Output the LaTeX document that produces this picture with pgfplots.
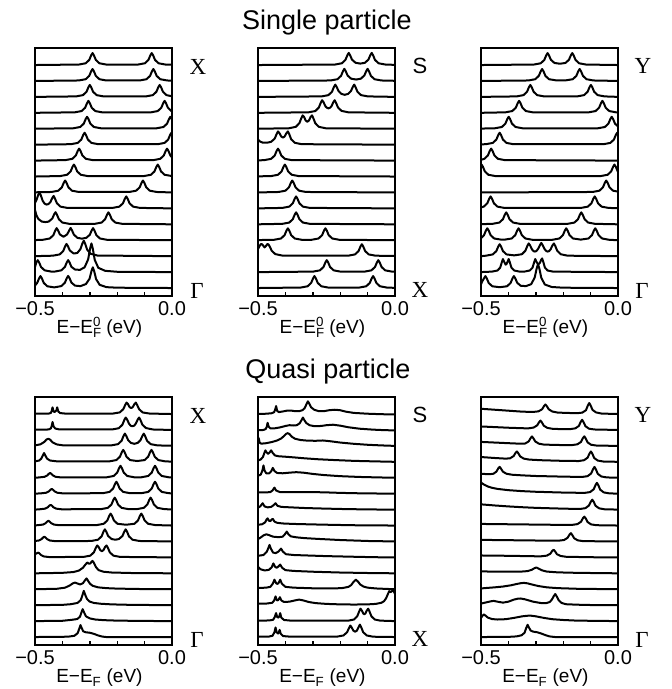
\documentclass[border=0pt]{standalone}
\usepackage{fontspec}
\setmainfont{Liberation Sans}
\newfontfamily\serif{Liberation Serif}
\usepackage{pgfplots}
\pgfplotsset{compat=1.18}
\pgfplotsset{
  o/.style={y filter/.expression={y+#1}},
  panel/.style={
    scale only axis, width=137bp, height=248bp, anchor=south west,
    xmin=-0.5, xmax=0, ymin=-0.5, ymax=15.07,
    ytick=\empty,
    xtick={-0.5,-0.4,-0.3,-0.2,-0.1,0},
    xticklabels={−0.5,,,,,0.0},
    xtick pos=left, tick align=inside, major tick length=4bp,
    every tick/.style={black, line width=1.4bp},
    axis line style={line width=1.8bp},
    xticklabel style={anchor=base, yshift=-20bp, inner sep=0pt, font=\fontsize{20bp}{22bp}\selectfont},
    xlabel style={at={(axis description cs:0.47,0)}, anchor=base, yshift=-38bp, inner sep=0pt, font=\fontsize{19bp}{21bp}\selectfont},
    every axis plot/.append style={black, line width=2bp, line join=round, mark=none},
    axis on top,
  },
}
\tikzset{
  lab/.style={font=\serif\fontsize{23bp}{26bp}\selectfont},
  sl/.style={font=\fontsize{22bp}{25bp}\selectfont},
  ttl/.style={font=\fontsize{27bp}{30bp}\selectfont, anchor=base},
}
\newcommand{\elab}{E−E\rlap{\textsubscript{F}}\textsuperscript{0} (eV)}
\newcommand{\elabq}{E−E\textsubscript{F} (eV)}

\begin{document}
\begin{tikzpicture}[x=1bp,y=1bp]
\path (0,0) rectangle (672,689);

% ---- single particle, Gamma -> X
\begin{axis}[panel, at={(35bp,393bp)}, xlabel={\elab}]
\addplot[o=14] coordinates {(-.5,0)(-.34,.03)(-.315,.11)(-.302,.32)(-.295,.61)(-.29,.75)(-.285,.61)(-.278,.32)(-.265,.11)(-.24,.03)(-.124,.03)(-.099,.11)(-.086,.32)(-.079,.61)(-.074,.75)(-.069,.61)(-.062,.32)(-.049,.11)(-.024,.03)(0,.02)};
\addplot[o=13] coordinates {(-.5,0)(-.34,.03)(-.315,.11)(-.302,.32)(-.295,.61)(-.29,.75)(-.285,.61)(-.278,.32)(-.265,.11)(-.24,.03)(-.118,.03)(-.093,.11)(-.08,.32)(-.073,.61)(-.068,.75)(-.063,.61)(-.056,.32)(-.043,.11)(-.018,.03)(0,.02)};
\addplot[o=12] coordinates {(-.5,0)(-.35,.03)(-.325,.11)(-.312,.32)(-.305,.61)(-.3,.75)(-.295,.61)(-.288,.32)(-.275,.11)(-.25,.03)(-.095,.03)(-.07,.11)(-.057,.32)(-.05,.61)(-.045,.75)(-.04,.61)(-.033,.32)(-.02,.11)(0,.04)};
\addplot[o=11] coordinates {(-.5,0)(-.355,.03)(-.33,.11)(-.317,.32)(-.31,.61)(-.305,.75)(-.3,.61)(-.293,.32)(-.28,.11)(-.255,.03)(-.077,.03)(-.052,.11)(-.039,.32)(-.032,.61)(-.027,.75)(-.022,.61)(-.015,.32)(-.002,.11)(0,.1)};
\addplot[o=10] coordinates {(-.5,0)(-.36,.03)(-.335,.11)(-.322,.32)(-.315,.61)(-.31,.75)(-.305,.61)(-.298,.32)(-.285,.11)(-.26,.03)(-.056,.03)(-.031,.11)(-.018,.32)(-.011,.61)(-.006,.75)(-.001,.61)(0,.58)};
\addplot[o=9] coordinates {(-.5,0)(-.369,.03)(-.344,.11)(-.331,.32)(-.324,.61)(-.319,.75)(-.314,.61)(-.307,.32)(-.294,.11)(-.269,.03)(-.052,.03)(-.027,.11)(-.014,.32)(-.007,.61)(-.002,.75)(0,.72)};
\addplot[o=8] coordinates {(-.5,0)(-.389,.03)(-.364,.11)(-.351,.32)(-.344,.61)(-.339,.75)(-.334,.61)(-.327,.32)(-.314,.11)(-.289,.03)(-.068,.03)(-.043,.11)(-.03,.32)(-.023,.61)(-.018,.75)(-.013,.61)(-.006,.32)(0,.2)};
\addplot[o=7] coordinates {(-.5,0)(-.408,.03)(-.383,.11)(-.37,.32)(-.363,.61)(-.358,.75)(-.353,.61)(-.346,.32)(-.333,.11)(-.308,.03)(-.102,.03)(-.077,.11)(-.064,.32)(-.057,.61)(-.052,.75)(-.047,.61)(-.04,.32)(-.027,.11)(0,.03)};
\addplot[o=6] coordinates {(-.5,.01)(-.44,.03)(-.415,.11)(-.402,.32)(-.395,.61)(-.39,.75)(-.385,.61)(-.378,.32)(-.365,.11)(-.34,.03)(-.156,.03)(-.131,.11)(-.118,.32)(-.111,.61)(-.106,.75)(-.101,.61)(-.094,.32)(-.081,.11)(-.056,.03)(0,0)};
\addplot[o=5] coordinates {(-.5,.34)(-.494,.55)(-.489,.81)(-.484,1)(-.479,.83)(-.472,.48)(-.465,.3)(-.458,.24)(-.451,.27)(-.444,.39)(-.437,.65)(-.432,.78)(-.427,.61)(-.42,.32)(-.407,.11)(-.382,.03)(-.217,.03)(-.192,.11)(-.179,.32)(-.172,.61)(-.167,.75)(-.162,.61)(-.155,.32)(-.142,.11)(-.117,.03)(0,0)};
\addplot[o=4] coordinates {(-.5,.9)(-.495,.58)(-.488,.34)(-.475,.17)(-.462,.14)(-.45,.17)(-.437,.36)(-.43,.63)(-.425,.76)(-.42,.61)(-.413,.32)(-.4,.11)(-.375,.03)(-.282,.03)(-.257,.11)(-.244,.32)(-.237,.61)(-.232,.75)(-.227,.61)(-.22,.32)(-.207,.11)(-.182,.03)(0,0)};
\addplot[o=3] coordinates {(-.5,.01)(-.471,.03)(-.446,.11)(-.433,.32)(-.426,.61)(-.421,.76)(-.416,.62)(-.409,.36)(-.396,.22)(-.383,.36)(-.375,.62)(-.37,.77)(-.365,.62)(-.358,.35)(-.345,.15)(-.329,.1)(-.313,.15)(-.3,.34)(-.293,.62)(-.288,.76)(-.283,.61)(-.276,.32)(-.263,.11)(-.238,.03)(0,0)};
\addplot[o=2] coordinates {(-.5,0)(-.435,.03)(-.41,.11)(-.397,.32)(-.39,.62)(-.385,.77)(-.38,.63)(-.373,.36)(-.36,.18)(-.353,.18)(-.345,.21)(-.334,.45)(-.327,.8)(-.322,.97)(-.317,.79)(-.31,.42)(-.297,.15)(-.272,.04)(0,0)};
\addplot[o=1] coordinates {(-.5,.32)(-.495,.61)(-.49,.75)(-.485,.61)(-.478,.32)(-.465,.11)(-.44,.03)(-.429,.03)(-.404,.11)(-.391,.32)(-.384,.61)(-.379,.75)(-.374,.61)(-.367,.33)(-.354,.16)(-.336,.14)(-.319,.3)(-.306,.8)(-.299,1.47)(-.294,1.8)(-.289,1.47)(-.282,.77)(-.269,.27)(-.244,.08)(-.2,.02)(0,0)};
\addplot[o=0] coordinates {(-.5,.16)(-.492,.32)(-.485,.61)(-.48,.75)(-.475,.61)(-.468,.32)(-.455,.11)(-.43,.04)(-.404,.12)(-.391,.33)(-.384,.62)(-.379,.76)(-.374,.62)(-.367,.34)(-.354,.15)(-.334,.12)(-.314,.25)(-.301,.58)(-.294,1.06)(-.289,1.3)(-.284,1.06)(-.277,.56)(-.264,.2)(-.239,.055)(-.2,.02)(0,0)};
\end{axis}

% ---- single particle, X -> S
\begin{axis}[panel, at={(258bp,393bp)}, xlabel={\elab}]
\addplot[o=14] coordinates {(-.5,0)(-.219,.03)(-.194,.11)(-.181,.32)(-.174,.61)(-.169,.76)(-.164,.62)(-.157,.34)(-.144,.14)(-.127,.09)(-.11,.14)(-.097,.34)(-.09,.62)(-.085,.76)(-.08,.61)(-.073,.32)(-.06,.11)(-.035,.03)(0,.01)};
\addplot[o=13] coordinates {(-.5,0)(-.235,.03)(-.21,.11)(-.197,.32)(-.19,.61)(-.185,.76)(-.18,.62)(-.173,.34)(-.16,.14)(-.142,.09)(-.125,.14)(-.112,.34)(-.105,.62)(-.1,.76)(-.095,.61)(-.088,.32)(-.075,.11)(-.05,.03)(0,.01)};
\addplot[o=12] coordinates {(-.5,0)(-.268,.03)(-.243,.11)(-.23,.32)(-.223,.62)(-.218,.77)(-.213,.63)(-.206,.36)(-.196,.19)(-.1835,.13)(-.171,.19)(-.161,.36)(-.154,.63)(-.149,.77)(-.144,.61)(-.137,.32)(-.124,.11)(-.099,.03)(0,0)};
\addplot[o=11] coordinates {(-.5,0)(-.316,.03)(-.291,.11)(-.278,.33)(-.271,.63)(-.266,.79)(-.261,.67)(-.254,.41)(-.248,.31)(-.243,.28)(-.238,.31)(-.232,.41)(-.225,.67)(-.22,.79)(-.215,.62)(-.208,.33)(-.195,.12)(-.17,.03)(0,0)};
\addplot[o=10] coordinates {(-.5,0)(-.387,.03)(-.362,.12)(-.349,.35)(-.342,.66)(-.337,.84)(-.332,.74)(-.326,.52)(-.32,.44)(-.314,.52)(-.308,.74)(-.303,.84)(-.298,.66)(-.291,.35)(-.278,.12)(-.253,.03)(0,0)};
\addplot[o=9] coordinates {(-.5,.32)(-.493,.2)(-.483,.13)(-.465,.13)(-.452,.18)(-.439,.38)(-.432,.67)(-.427,.83)(-.422,.73)(-.415,.51)(-.409,.44)(-.403,.51)(-.396,.73)(-.391,.83)(-.386,.66)(-.379,.34)(-.366,.12)(-.341,.03)(0,0)};
\addplot[o=8] coordinates {(-.5,.01)(-.477,.03)(-.452,.11)(-.439,.32)(-.432,.61)(-.427,.75)(-.422,.61)(-.415,.32)(-.402,.11)(-.377,.03)(0,0)};
\addplot[o=7] coordinates {(-.5,.01)(-.452,.03)(-.427,.11)(-.414,.32)(-.407,.61)(-.402,.75)(-.397,.61)(-.39,.32)(-.377,.11)(-.352,.03)(0,0)};
\addplot[o=6] coordinates {(-.5,0)(-.425,.03)(-.4,.11)(-.387,.32)(-.38,.61)(-.375,.75)(-.37,.61)(-.363,.32)(-.35,.11)(-.325,.03)(0,0)};
\addplot[o=5] coordinates {(-.5,0)(-.411,.03)(-.386,.11)(-.373,.32)(-.366,.61)(-.361,.75)(-.356,.61)(-.349,.32)(-.336,.11)(-.311,.03)(0,0)};
\addplot[o=4] coordinates {(-.5,0)(-.411,.03)(-.386,.11)(-.373,.32)(-.366,.61)(-.361,.75)(-.356,.61)(-.349,.32)(-.336,.11)(-.311,.03)(0,0)};
\addplot[o=3] coordinates {(-.5,.01)(-.441,.03)(-.416,.11)(-.403,.32)(-.396,.61)(-.391,.75)(-.386,.61)(-.379,.32)(-.366,.11)(-.341,.03)(-.304,.03)(-.279,.11)(-.266,.32)(-.259,.61)(-.254,.75)(-.249,.61)(-.242,.32)(-.229,.11)(-.204,.03)(0,0)};
\addplot[o=2] coordinates {(-.5,.45)(-.495,.62)(-.49,.75)(-.486,.76)(-.482,.68)(-.476,.55)(-.47,.66)(-.466,.76)(-.462,.74)(-.457,.6)(-.45,.34)(-.437,.13)(-.412,.04)(-.171,.03)(-.146,.11)(-.133,.32)(-.126,.61)(-.121,.75)(-.116,.61)(-.109,.32)(-.096,.11)(-.071,.03)(0,.01)};
\addplot[o=1] coordinates {(-.5,0)(-.299,.03)(-.274,.11)(-.261,.32)(-.254,.61)(-.249,.75)(-.244,.61)(-.237,.32)(-.224,.11)(-.199,.03)(-.111,.03)(-.086,.11)(-.073,.32)(-.066,.61)(-.061,.75)(-.056,.61)(-.049,.32)(-.036,.11)(-.011,.03)(0,.02)};
\addplot[o=0] coordinates {(-.5,0)(-.344,.03)(-.319,.11)(-.306,.32)(-.299,.61)(-.294,.75)(-.289,.61)(-.282,.32)(-.269,.11)(-.244,.03)(-.13,.03)(-.105,.11)(-.092,.32)(-.085,.61)(-.08,.75)(-.075,.61)(-.068,.32)(-.055,.11)(-.03,.03)(0,.01)};
\end{axis}

% ---- single particle, Gamma -> Y
\begin{axis}[panel, at={(481bp,393bp)}, xlabel={\elab}]
\addplot[o=14] coordinates {(-.5,0)(-.307,.03)(-.282,.11)(-.269,.32)(-.262,.61)(-.257,.75)(-.252,.61)(-.245,.33)(-.232,.13)(-.212,.08)(-.192,.13)(-.179,.33)(-.172,.61)(-.167,.75)(-.162,.61)(-.155,.32)(-.142,.11)(-.117,.03)(0,0)};
\addplot[o=13] coordinates {(-.5,0)(-.327,.03)(-.302,.11)(-.289,.32)(-.282,.61)(-.277,.75)(-.272,.61)(-.265,.32)(-.252,.11)(-.227,.04)(-.19,.04)(-.165,.11)(-.152,.32)(-.145,.61)(-.14,.75)(-.135,.61)(-.128,.32)(-.115,.11)(-.09,.03)(0,0)};
\addplot[o=12] coordinates {(-.5,0)(-.37,.03)(-.345,.11)(-.332,.32)(-.325,.61)(-.32,.75)(-.315,.61)(-.308,.32)(-.295,.11)(-.27,.03)(-.149,.03)(-.124,.11)(-.111,.32)(-.104,.61)(-.099,.75)(-.094,.61)(-.087,.32)(-.074,.11)(-.049,.03)(0,0)};
\addplot[o=11] coordinates {(-.5,0)(-.411,.03)(-.386,.11)(-.373,.32)(-.366,.61)(-.361,.75)(-.356,.61)(-.349,.32)(-.336,.11)(-.311,.03)(-.107,.03)(-.082,.11)(-.069,.32)(-.062,.61)(-.057,.75)(-.052,.61)(-.045,.32)(-.032,.11)(-.007,.03)(0,.02)};
\addplot[o=10] coordinates {(-.5,.01)(-.449,.03)(-.424,.11)(-.411,.32)(-.404,.61)(-.399,.75)(-.394,.61)(-.387,.32)(-.374,.11)(-.349,.03)(-.073,.03)(-.048,.11)(-.035,.32)(-.028,.61)(-.023,.75)(-.018,.61)(-.011,.32)(0,.14)};
\addplot[o=9] coordinates {(-.5,.02)(-.482,.03)(-.457,.11)(-.444,.32)(-.437,.61)(-.432,.75)(-.427,.61)(-.42,.32)(-.407,.11)(-.382,.03)(-.053,.03)(-.028,.11)(-.015,.32)(-.008,.61)(-.003,.75)(0,.7)};
\addplot[o=8] coordinates {(-.5,.05)(-.488,.11)(-.475,.32)(-.468,.61)(-.463,.75)(-.458,.61)(-.451,.32)(-.438,.11)(-.413,.03)(0,0)};
\addplot[o=7] coordinates {(-.5,.74)(-.498,.75)(-.493,.61)(-.486,.32)(-.473,.11)(-.448,.03)(-.063,.03)(-.038,.11)(-.025,.32)(-.018,.61)(-.013,.75)(-.008,.61)(-.001,.32)(0,.3)};
\addplot[o=6] coordinates {(-.5,0)(-.093,.03)(-.068,.11)(-.055,.32)(-.048,.61)(-.043,.75)(-.038,.61)(-.031,.32)(-.018,.11)(0,.05)};
\addplot[o=5] coordinates {(-.5,.06)(-.49,.11)(-.477,.32)(-.47,.61)(-.465,.75)(-.46,.61)(-.453,.32)(-.44,.11)(-.415,.03)(-.135,.03)(-.11,.11)(-.097,.32)(-.09,.61)(-.085,.75)(-.08,.61)(-.073,.32)(-.06,.11)(-.035,.03)(0,.01)};
\addplot[o=4] coordinates {(-.5,.01)(-.458,.03)(-.433,.11)(-.42,.32)(-.413,.61)(-.408,.75)(-.403,.61)(-.396,.32)(-.383,.11)(-.358,.03)(-.184,.03)(-.159,.11)(-.146,.32)(-.139,.61)(-.134,.75)(-.129,.61)(-.122,.32)(-.109,.11)(-.084,.03)(0,0)};
\addplot[o=3] coordinates {(-.5,.13)(-.489,.32)(-.482,.61)(-.477,.75)(-.472,.61)(-.465,.32)(-.452,.11)(-.427,.04)(-.413,.04)(-.388,.11)(-.375,.32)(-.368,.61)(-.363,.75)(-.358,.61)(-.351,.32)(-.338,.11)(-.313,.03)(-.239,.03)(-.214,.11)(-.201,.32)(-.194,.61)(-.189,.75)(-.184,.61)(-.177,.32)(-.164,.11)(-.136,.04)(-.108,.11)(-.095,.32)(-.088,.61)(-.083,.75)(-.078,.61)(-.071,.32)(-.058,.11)(-.033,.03)(0,0)};
\addplot[o=2] coordinates {(-.5,0)(-.482,.03)(-.457,.11)(-.444,.32)(-.437,.61)(-.432,.75)(-.427,.61)(-.42,.32)(-.407,.11)(-.379,.05)(-.351,.12)(-.338,.34)(-.331,.64)(-.326,.8)(-.321,.68)(-.314,.43)(-.308,.31)(-.303,.29)(-.298,.32)(-.292,.45)(-.285,.69)(-.28,.83)(-.275,.69)(-.268,.45)(-.262,.32)(-.257,.29)(-.252,.31)(-.246,.43)(-.239,.68)(-.234,.8)(-.229,.64)(-.222,.34)(-.209,.12)(-.184,.03)(0,0)};
\addplot[o=1] coordinates {(-.5,0)(-.46,.03)(-.44,.1)(-.43,.28)(-.424,.62)(-.42,.82)(-.416,.66)(-.41,.47)(-.407,.5)(-.403,.66)(-.399,.82)(-.395,.62)(-.389,.28)(-.379,.1)(-.359,.03)(-.342,.03)(-.322,.1)(-.312,.28)(-.306,.62)(-.302,.82)(-.298,.66)(-.292,.5)(-.29,.49)(-.285,.58)(-.281,.75)(-.277,.86)(-.273,.66)(-.267,.29)(-.257,.1)(-.237,.03)(0,0)};
\addplot[o=0] coordinates {(-.5,.23)(-.496,.4)(-.489,.61)(-.484,.75)(-.479,.61)(-.472,.32)(-.459,.11)(-.432,.05)(-.405,.11)(-.392,.32)(-.385,.61)(-.38,.75)(-.375,.61)(-.368,.33)(-.355,.14)(-.336,.12)(-.317,.24)(-.304,.66)(-.297,1.22)(-.292,1.5)(-.287,1.22)(-.28,.64)(-.267,.22)(-.242,.065)(-.2,.02)(0,0)};
\end{axis}

% ---- quasi particle, Gamma -> X
\begin{axis}[panel, at={(35bp,44bp)}, xlabel={\elabq}]
\addplot[o=14] coordinates {(-.5,.02)(-.45,.03)(-.442,.07)(-.439,.2)(-.436,.42)(-.432,.15)(-.428,.13)(-.422,.22)(-.419,.42)(-.415,.16)(-.408,.06)(-.39,.03)(-.216,.03)(-.191,.1)(-.178,.3)(-.171,.56)(-.166,.72)(-.161,.63)(-.155,.44)(-.149,.37)(-.143,.44)(-.137,.63)(-.132,.72)(-.127,.56)(-.12,.3)(-.107,.1)(-.082,.03)(0,0)};
\addplot[o=13] coordinates {(-.5,.02)(-.45,.03)(-.442,.1)(-.439,.25)(-.436,.5)(-.432,.22)(-.426,.09)(-.41,.03)(-.219,.03)(-.194,.11)(-.181,.33)(-.174,.63)(-.169,.78)(-.164,.66)(-.157,.4)(-.151,.27)(-.1445,.23)(-.138,.27)(-.132,.4)(-.125,.66)(-.12,.78)(-.115,.62)(-.108,.33)(-.095,.12)(-.07,.03)(0,0)};
\addplot[o=12] coordinates {(-.5,.03)(-.48,.1)(-.466,.25)(-.458,.4)(-.451,.45)(-.444,.38)(-.436,.22)(-.42,.09)(-.4,.04)(-.222,.03)(-.197,.11)(-.184,.32)(-.177,.62)(-.172,.77)(-.167,.63)(-.16,.36)(-.15,.19)(-.1375,.13)(-.125,.19)(-.115,.36)(-.108,.63)(-.103,.77)(-.098,.61)(-.091,.32)(-.078,.11)(-.053,.03)(0,.01)};
\addplot[o=11] coordinates {(-.5,.03)(-.485,.08)(-.477,.2)(-.471,.42)(-.467,.55)(-.463,.42)(-.456,.2)(-.445,.08)(-.42,.03)(-.228,.03)(-.203,.11)(-.19,.32)(-.183,.61)(-.178,.75)(-.173,.61)(-.166,.32)(-.153,.11)(-.127,.05)(-.1,.11)(-.087,.32)(-.08,.61)(-.075,.75)(-.07,.61)(-.063,.32)(-.05,.11)(-.025,.03)(0,.01)};
\addplot[o=10] coordinates {(-.5,0)(-.485,.02)(-.465,.06)(-.455,.15)(-.45,.24)(-.445,.3)(-.44,.24)(-.435,.15)(-.425,.06)(-.405,.02)(-.238,.03)(-.213,.11)(-.2,.32)(-.193,.61)(-.188,.75)(-.183,.61)(-.176,.32)(-.163,.11)(-.138,.03)(-.112,.03)(-.087,.11)(-.074,.32)(-.067,.61)(-.062,.75)(-.057,.61)(-.05,.32)(-.037,.11)(-.012,.03)(0,.02)};
\addplot[o=9] coordinates {(-.5,0)(-.479,.02)(-.459,.06)(-.449,.15)(-.444,.24)(-.439,.3)(-.434,.24)(-.429,.15)(-.419,.06)(-.399,.02)(-.253,.03)(-.228,.11)(-.215,.32)(-.208,.61)(-.203,.75)(-.198,.61)(-.191,.32)(-.178,.11)(-.153,.03)(-.112,.03)(-.087,.11)(-.074,.32)(-.067,.61)(-.062,.75)(-.057,.61)(-.05,.32)(-.037,.11)(-.012,.03)(0,.02)};
\addplot[o=8] coordinates {(-.5,0)(-.483,.02)(-.463,.06)(-.453,.15)(-.448,.24)(-.443,.3)(-.438,.24)(-.433,.15)(-.423,.06)(-.403,.02)(-.259,.03)(-.234,.11)(-.221,.32)(-.214,.61)(-.209,.75)(-.204,.61)(-.197,.32)(-.184,.11)(-.159,.03)(-.128,.03)(-.103,.11)(-.09,.32)(-.083,.61)(-.078,.75)(-.073,.61)(-.066,.32)(-.053,.11)(-.028,.03)(0,.01)};
\addplot[o=7] coordinates {(-.5,.01)(-.491,.02)(-.471,.06)(-.461,.15)(-.456,.24)(-.451,.3)(-.446,.24)(-.441,.15)(-.431,.06)(-.411,.02)(-.274,.03)(-.249,.11)(-.236,.32)(-.229,.61)(-.224,.75)(-.219,.61)(-.212,.32)(-.199,.11)(-.168,.05)(-.137,.11)(-.124,.32)(-.117,.61)(-.112,.75)(-.107,.61)(-.1,.32)(-.087,.11)(-.062,.03)(0,0)};
\addplot[o=6] coordinates {(-.5,.03)(-.486,.06)(-.476,.15)(-.471,.24)(-.466,.3)(-.461,.24)(-.456,.15)(-.446,.06)(-.426,.02)(-.295,.03)(-.27,.11)(-.257,.32)(-.25,.62)(-.245,.76)(-.24,.62)(-.233,.34)(-.22,.15)(-.207,.11)(-.194,.15)(-.181,.34)(-.174,.62)(-.169,.76)(-.164,.61)(-.157,.32)(-.144,.11)(-.119,.03)(0,0)};
\addplot[o=5] coordinates {(-.5,.2)(-.493,.26)(-.488,.3)(-.483,.24)(-.478,.15)(-.468,.06)(-.448,.02)(-.323,.03)(-.298,.11)(-.285,.32)(-.278,.6)(-.273,.75)(-.268,.66)(-.262,.46)(-.256,.39)(-.25,.46)(-.244,.66)(-.239,.75)(-.234,.6)(-.227,.32)(-.214,.11)(-.189,.03)(0,0)};
\addplot[o=4] coordinates {(-.5,0)(-.4,.03)(-.36,.08)(-.34,.17)(-.325,.35)(-.316,.55)(-.309,.68)(-.303,.6)(-.298,.62)(-.294,.72)(-.29,.78)(-.285,.66)(-.278,.4)(-.268,.2)(-.25,.1)(-.22,.05)(-.15,.02)(0,0)};
\addplot[o=3] coordinates {(-.5,0)(-.42,.03)(-.39,.1)(-.372,.25)(-.362,.37)(-.354,.42)(-.345,.36)(-.335,.3)(-.325,.38)(-.318,.55)(-.312,.68)(-.307,.55)(-.3,.36)(-.29,.22)(-.27,.12)(-.24,.07)(-.2,.04)(-.1,.01)(0,0)};
\addplot[o=2] coordinates {(-.5,0)(-.4,.02)(-.37,.06)(-.345,.14)(-.333,.32)(-.327,.62)(-.322,.9)(-.317,.66)(-.31,.38)(-.3,.22)(-.285,.14)(-.26,.09)(-.22,.05)(-.15,.02)(0,0)};
\addplot[o=1] coordinates {(-.5,0)(-.4,.02)(-.366,.08)(-.346,.13)(-.336,.27)(-.33,.57)(-.326,.75)(-.321,.55)(-.314,.3)(-.3,.17)(-.28,.1)(-.25,.06)(-.2,.03)(-.1,.01)(0,0)};
\addplot[o=0] coordinates {(-.5,0)(-.38,.02)(-.356,.08)(-.344,.25)(-.338,.55)(-.334,.75)(-.33,.58)(-.324,.36)(-.315,.3)(-.3,.27)(-.285,.2)(-.27,.1)(-.255,.03)(-.24,0)(0,0)};
\end{axis}

% ---- quasi particle, X -> S
\begin{axis}[panel, at={(258bp,44bp)}, xlabel={\elabq}]
\addplot[o=14] coordinates {(-.5,0)(-.47,.02)(-.45,.05)(-.441,.12)(-.437,.3)(-.434,.5)(-.43,.2)(-.424,.12)(-.41,.16)(-.395,.21)(-.38,.22)(-.365,.18)(-.35,.18)(-.338,.24)(-.33,.36)(-.323,.62)(-.318,.8)(-.313,.66)(-.306,.42)(-.295,.27)(-.28,.19)(-.26,.18)(-.24,.24)(-.22,.27)(-.2,.24)(-.18,.15)(-.15,.07)(-.1,.02)(-.05,-.01)(0,-.03)};
\addplot[o=13] coordinates {(-.5,-.02)(-.48,0)(-.472,.06)(-.468,.2)(-.465,.45)(-.461,.2)(-.455,.1)(-.44,.1)(-.42,.16)(-.4,.25)(-.385,.3)(-.37,.28)(-.358,.3)(-.348,.42)(-.341,.62)(-.336,.78)(-.331,.62)(-.324,.44)(-.312,.3)(-.295,.24)(-.27,.25)(-.25,.3)(-.226,.33)(-.2,.27)(-.17,.17)(-.13,.08)(-.08,.02)(-.04,-.01)(0,-.03)};
\addplot[o=12] coordinates {(-.5,.55)(-.497,.45)(-.494,.2)(-.488,.14)(-.47,.17)(-.45,.24)(-.43,.34)(-.415,.47)(-.405,.62)(-.397,.76)(-.391,.8)(-.385,.74)(-.377,.58)(-.365,.45)(-.345,.37)(-.32,.33)(-.29,.32)(-.263,.34)(-.24,.3)(-.2,.21)(-.15,.13)(-.1,.07)(-.05,.03)(0,0)};
\addplot[o=11] coordinates {(-.5,.08)(-.49,.15)(-.482,.3)(-.477,.55)(-.473,.72)(-.469,.6)(-.463,.5)(-.458,.58)(-.452,.72)(-.446,.55)(-.438,.4)(-.425,.35)(-.4,.32)(-.37,.28)(-.33,.22)(-.28,.16)(-.22,.11)(-.15,.06)(-.08,.03)(0,0)};
\addplot[o=10] coordinates {(-.5,.12)(-.49,.2)(-.484,.45)(-.48,.77)(-.476,.45)(-.47,.28)(-.46,.27)(-.452,.4)(-.446,.62)(-.44,.42)(-.43,.3)(-.41,.28)(-.385,.32)(-.36,.35)(-.335,.32)(-.3,.24)(-.26,.17)(-.2,.1)(-.13,.05)(-.06,.02)(0,0)};
\addplot[o=9] coordinates {(-.5,.08)(-.47,.08)(-.455,.1)(-.447,.2)(-.44,.38)(-.434,.2)(-.42,.1)(-.39,.09)(-.35,.1)(-.3,.1)(-.25,.08)(-.2,.05)(-.12,.02)(0,0)};
\addplot[o=8] coordinates {(-.5,.12)(-.492,.2)(-.483,.4)(-.476,.2)(-.465,.14)(-.452,.17)(-.443,.28)(-.436,.4)(-.429,.24)(-.415,.17)(-.38,.14)(-.33,.1)(-.27,.07)(-.2,.04)(-.1,.01)(0,0)};
\addplot[o=7] coordinates {(-.5,.05)(-.485,.08)(-.474,.2)(-.468,.4)(-.465,.45)(-.46,.3)(-.455,.28)(-.45,.38)(-.446,.42)(-.44,.25)(-.43,.17)(-.41,.13)(-.37,.1)(-.3,.07)(-.22,.04)(-.12,.01)(0,0)};
\addplot[o=6] coordinates {(-.5,.15)(-.49,.25)(-.48,.38)(-.47,.45)(-.46,.4)(-.445,.3)(-.425,.27)(-.41,.3)(-.402,.45)(-.395,.62)(-.389,.45)(-.38,.32)(-.36,.26)(-.33,.21)(-.28,.16)(-.2,.09)(-.1,.03)(0,0)};
\addplot[o=5] coordinates {(-.5,.1)(-.48,.15)(-.468,.35)(-.462,.6)(-.458,.78)(-.453,.55)(-.445,.3)(-.435,.27)(-.425,.37)(-.416,.55)(-.409,.36)(-.398,.2)(-.37,.15)(-.32,.12)(-.25,.08)(-.15,.04)(-.07,.01)(0,0)};
\addplot[o=4] coordinates {(-.5,.4)(-.49,.25)(-.475,.18)(-.46,.22)(-.45,.38)(-.444,.62)(-.438,.42)(-.432,.35)(-.426,.42)(-.419,.55)(-.412,.35)(-.4,.2)(-.37,.15)(-.3,.1)(-.2,.05)(-.1,.02)(0,0)};
\addplot[o=3] coordinates {(-.5,.08)(-.47,.1)(-.455,.15)(-.446,.35)(-.44,.6)(-.434,.38)(-.429,.33)(-.424,.42)(-.419,.6)(-.413,.35)(-.4,.15)(-.37,.1)(-.3,.06)(-.22,.05)(-.19,.08)(-.17,.15)(-.16,.26)(-.152,.45)(-.143,.6)(-.135,.48)(-.127,.3)(-.115,.17)(-.1,.1)(-.07,.05)(-.03,.02)(0,0)};
\addplot[o=2] coordinates {(-.5,.1)(-.47,.1)(-.448,.15)(-.441,.3)(-.436,.55)(-.431,.3)(-.426,.32)(-.42,.5)(-.415,.3)(-.405,.2)(-.385,.22)(-.365,.3)(-.35,.35)(-.335,.3)(-.315,.2)(-.29,.13)(-.25,.08)(-.2,.05)(-.15,.04)(-.1,.05)(-.07,.08)(-.05,.15)(-.04,.25)(-.032,.45)(-.026,.7)(-.021,.88)(-.017,.82)(-.013,.85)(-.009,.92)(-.004,.85)(0,.7)};
\addplot[o=1] coordinates {(-.5,.03)(-.46,.04)(-.445,.08)(-.439,.25)(-.434,.5)(-.43,.25)(-.425,.22)(-.422,.32)(-.419,.5)(-.415,.22)(-.405,.07)(-.38,.03)(-.17,.03)(-.15,.1)(-.138,.3)(-.131,.6)(-.126,.78)(-.121,.66)(-.116,.48)(-.112,.43)(-.108,.48)(-.103,.66)(-.098,.78)(-.093,.6)(-.086,.3)(-.074,.1)(-.054,.03)(0,0)};
\addplot[o=0] coordinates {(-.5,.02)(-.46,.03)(-.447,.08)(-.44,.3)(-.436,.6)(-.432,.3)(-.427,.22)(-.424,.3)(-.421,.45)(-.417,.2)(-.408,.06)(-.38,.02)(-.21,.03)(-.188,.1)(-.175,.3)(-.168,.56)(-.163,.72)(-.158,.6)(-.152,.4)(-.1455,.34)(-.139,.4)(-.133,.62)(-.128,.78)(-.123,.6)(-.116,.3)(-.103,.1)(-.08,.02)(0,0)};
\end{axis}

% ---- quasi particle, Gamma -> Y
\begin{axis}[panel, at={(481bp,44bp)}, xlabel={\elabq}]
\addplot[o=14] coordinates {(-.5,.33)(-.45,.27)(-.4,.21)(-.35,.15)(-.31,.13)(-.29,.17)(-.277,.3)(-.27,.5)(-.265,.6)(-.26,.5)(-.253,.3)(-.24,.16)(-.22,.09)(-.15,.05)(-.13,.09)(-.117,.24)(-.11,.54)(-.105,.69)(-.1,.54)(-.093,.26)(-.08,.1)(-.06,.03)(0,0)};
\addplot[o=13] coordinates {(-.5,.22)(-.45,.18)(-.4,.14)(-.35,.11)(-.328,.1)(-.308,.15)(-.295,.29)(-.288,.49)(-.283,.59)(-.278,.48)(-.271,.27)(-.258,.13)(-.238,.07)(-.2,.05)(-.176,.05)(-.156,.1)(-.143,.25)(-.136,.51)(-.131,.64)(-.126,.5)(-.119,.24)(-.106,.08)(-.086,.03)(0,0)};
\addplot[o=12] coordinates {(-.5,.25)(-.45,.21)(-.4,.17)(-.36,.14)(-.339,.15)(-.326,.28)(-.319,.49)(-.314,.59)(-.309,.48)(-.302,.28)(-.289,.14)(-.27,.08)(-.2,.05)(-.168,.05)(-.148,.1)(-.135,.25)(-.128,.49)(-.123,.6)(-.118,.47)(-.111,.22)(-.098,.07)(-.078,.02)(0,0)};
\addplot[o=11] coordinates {(-.5,.3)(-.45,.24)(-.41,.2)(-.394,.22)(-.381,.36)(-.374,.56)(-.369,.65)(-.364,.54)(-.357,.34)(-.344,.2)(-.324,.14)(-.28,.1)(-.2,.06)(-.144,.05)(-.124,.1)(-.111,.26)(-.104,.52)(-.099,.65)(-.094,.52)(-.087,.24)(-.074,.08)(-.054,.02)(0,0)};
\addplot[o=10] coordinates {(-.5,.25)(-.47,.22)(-.455,.25)(-.444,.38)(-.437,.59)(-.432,.68)(-.427,.57)(-.42,.38)(-.407,.25)(-.387,.19)(-.35,.15)(-.3,.11)(-.2,.07)(-.131,.05)(-.111,.1)(-.098,.27)(-.091,.54)(-.086,.68)(-.081,.54)(-.074,.25)(-.061,.08)(-.041,.02)(0,0)};
\addplot[o=9] coordinates {(-.5,.7)(-.49,.58)(-.475,.45)(-.46,.37)(-.44,.3)(-.4,.22)(-.35,.16)(-.3,.12)(-.2,.07)(-.122,.05)(-.102,.1)(-.089,.27)(-.082,.54)(-.077,.68)(-.072,.54)(-.065,.25)(-.052,.08)(-.032,.02)(0,0)};
\addplot[o=8] coordinates {(-.5,.33)(-.45,.26)(-.4,.2)(-.35,.15)(-.3,.11)(-.2,.06)(-.139,.04)(-.119,.09)(-.106,.26)(-.099,.5)(-.094,.62)(-.089,.5)(-.082,.24)(-.069,.08)(-.049,.02)(0,0)};
\addplot[o=7] coordinates {(-.5,.1)(-.4,.08)(-.3,.06)(-.2,.04)(-.168,.04)(-.148,.09)(-.135,.24)(-.128,.46)(-.123,.56)(-.118,.45)(-.111,.22)(-.098,.07)(-.078,.02)(0,0)};
\addplot[o=6] coordinates {(-.5,.1)(-.4,.08)(-.3,.06)(-.217,.05)(-.197,.09)(-.184,.23)(-.177,.43)(-.172,.52)(-.167,.41)(-.16,.2)(-.147,.07)(-.127,.02)(0,0)};
\addplot[o=5] coordinates {(-.5,.12)(-.4,.1)(-.3,.07)(-.28,.07)(-.26,.11)(-.247,.23)(-.24,.41)(-.235,.48)(-.23,.39)(-.223,.2)(-.21,.09)(-.19,.04)(-.1,.01)(0,0)};
\addplot[o=4] coordinates {(-.5,.12)(-.42,.1)(-.36,.1)(-.33,.14)(-.315,.22)(-.305,.32)(-.298,.37)(-.29,.3)(-.278,.19)(-.26,.11)(-.22,.06)(-.15,.03)(0,0)};
\addplot[o=3] coordinates {(-.5,.05)(-.48,.08)(-.45,.12)(-.42,.17)(-.39,.25)(-.37,.33)(-.355,.38)(-.344,.4)(-.33,.37)(-.31,.28)(-.29,.2)(-.26,.12)(-.22,.07)(-.15,.03)(0,0)};
\addplot[o=2] coordinates {(-.5,.1)(-.48,.18)(-.465,.24)(-.454,.27)(-.44,.22)(-.42,.16)(-.4,.22)(-.38,.35)(-.365,.41)(-.356,.42)(-.34,.37)(-.31,.22)(-.28,.13)(-.262,.13)(-.249,.2)(-.241,.36)(-.234,.58)(-.229,.7)(-.224,.56)(-.217,.32)(-.206,.14)(-.19,.06)(-.15,.03)(-.1,.01)(0,0)};
\addplot[o=1] coordinates {(-.5,.2)(-.494,.35)(-.49,.42)(-.484,.35)(-.475,.22)(-.46,.13)(-.44,.1)(-.41,.12)(-.38,.2)(-.35,.3)(-.322,.35)(-.3,.3)(-.27,.2)(-.24,.12)(-.2,.07)(-.15,.03)(0,0)};
\addplot[o=0] coordinates {(-.5,0)(-.4,.01)(-.37,.04)(-.352,.11)(-.341,.27)(-.335,.57)(-.33,.77)(-.325,.6)(-.319,.41)(-.31,.34)(-.295,.3)(-.28,.22)(-.265,.12)(-.25,.04)(-.23,0)(0,0)};
\end{axis}

% ---- titles and path labels
\node[ttl] at (327,659) {Single particle};
\node[ttl] at (328,310) {Quasi particle};
\node[lab] at (198,622) {X};
\node[lab] at (197,398) {Γ};
\node[sl]  at (420,623) {S};
\node[lab] at (420,399) {X};
\node[lab] at (643,623) {Y};
\node[lab] at (642,398) {Γ};
\node[lab] at (198,273) {X};
\node[lab] at (197,49) {Γ};
\node[sl]  at (420,274) {S};
\node[lab] at (420,50) {X};
\node[lab] at (643,274) {Y};
\node[lab] at (642,49) {Γ};
\end{tikzpicture}
\end{document}
